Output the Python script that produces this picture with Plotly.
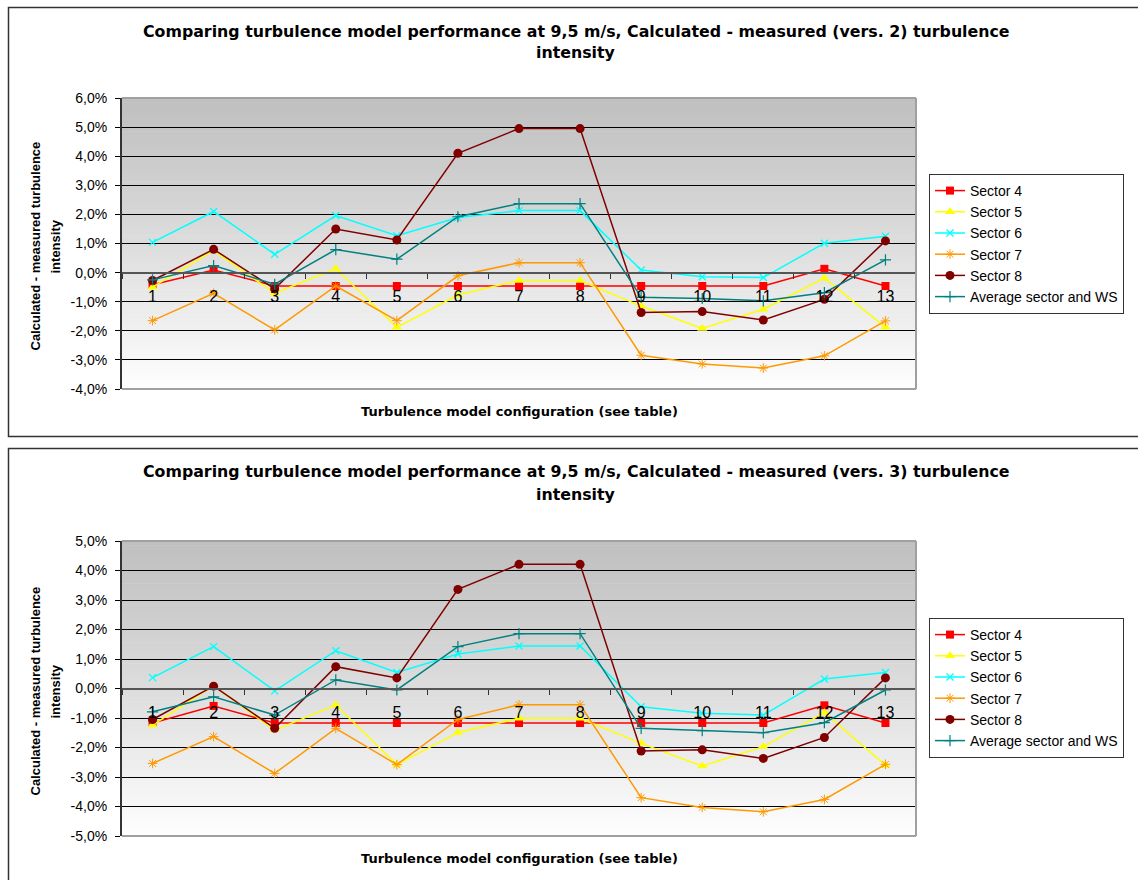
import plotly.graph_objects as go

# Turbulence model configurations on the category axis
configs = [str(i) for i in range(1, 14)]

# Calculated - measured turbulence intensity (vers. 2), in %
v2_sector4 = [-0.42, 0.09, -0.46, -0.46, -0.46, -0.46, -0.46, -0.46, -0.46, -0.46, -0.46, 0.13, -0.46]
v2_sector5 = [-0.50, 0.76, -0.71, 0.13, -1.88, -0.77, -0.27, -0.27, -1.15, -1.92, -1.26, -0.19, -1.88]
v2_sector6 = [1.04, 2.10, 0.63, 1.96, 1.27, 1.89, 2.13, 2.13, 0.09, -0.14, -0.17, 1.01, 1.25]
v2_sector7 = [-1.65, -0.71, -1.97, -0.46, -1.65, -0.11, 0.34, 0.34, -2.84, -3.14, -3.28, -2.86, -1.66]
v2_sector8 = [-0.27, 0.80, -0.56, 1.50, 1.12, 4.10, 4.95, 4.95, -1.37, -1.34, -1.63, -0.92, 1.09]
v2_average = [-0.25, 0.24, -0.40, 0.79, 0.46, 1.92, 2.37, 2.37, -0.85, -0.89, -0.97, -0.69, 0.44]

# Calculated - measured turbulence intensity (vers. 3), in %
v3_sector4 = [-1.17, -0.59, -1.17, -1.17, -1.17, -1.17, -1.17, -1.17, -1.17, -1.17, -1.17, -0.57, -1.17]
v3_sector5 = [-1.24, 0.10, -1.41, -0.56, -2.58, -1.49, -1.01, -1.01, -1.86, -2.63, -1.97, -0.82, -2.60]
v3_sector6 = [0.37, 1.42, -0.08, 1.28, 0.54, 1.17, 1.44, 1.44, -0.62, -0.84, -0.90, 0.32, 0.54]
v3_sector7 = [-2.54, -1.63, -2.88, -1.35, -2.58, -1.05, -0.55, -0.55, -3.70, -4.03, -4.18, -3.76, -2.57]
v3_sector8 = [-1.05, 0.08, -1.35, 0.74, 0.36, 3.36, 4.21, 4.21, -2.12, -2.08, -2.37, -1.66, 0.36]
v3_average = [-0.79, -0.28, -0.90, 0.29, -0.05, 1.42, 1.86, 1.86, -1.35, -1.43, -1.50, -1.16, -0.05]

series_names = ["Sector 4", "Sector 5", "Sector 6", "Sector 7", "Sector 8", "Average sector and WS"]

# Y tick values and labels (percent)
v2_tickvals = [-4, -3, -2, -1, 0, 1, 2, 3, 4, 5, 6]
v2_ticktext = ["-4,0%", "-3,0%", "-2,0%", "-1,0%", "0,0%", "1,0%", "2,0%", "3,0%", "4,0%", "5,0%", "6,0%"]
v3_tickvals = [-5, -4, -3, -2, -1, 0, 1, 2, 3, 4, 5]
v3_ticktext = ["-5,0%", "-4,0%", "-3,0%", "-2,0%", "-1,0%", "0,0%", "1,0%", "2,0%", "3,0%", "4,0%", "5,0%"]

titles = [
    ("Comparing turbulence model performance at 9,5 m/s, Calculated - measured (vers. 2) turbulence", "intensity"),
    ("Comparing turbulence model performance at 9,5 m/s, Calculated - measured (vers. 3) turbulence", "intensity"),
]
x_title = "Turbulence model configuration (see table)"
y_title = ("Calculated - measured turbulence", "intensity")

W, H = 1138, 880

styles = [
    dict(color="#ff0000", symbol="square", size=8, lw=0),
    dict(color="#ffff00", symbol="triangle-up", size=9, lw=0),
    dict(color="#00ffff", symbol="x-thin", size=7, lw=1.3),
    dict(color="#ff9900", symbol="asterisk", size=8, lw=1),
    dict(color="#800000", symbol="circle", size=9, lw=0),
    dict(color="#008080", symbol="cross-thin", size=8, lw=1.2),
]

# Panel geometry in pixels
panels = [
    dict(left=122, right=916, top=98, bottom=389, yr=(-4, 6), tv=v2_tickvals, tt=v2_ticktext,
         data=[v2_sector4, v2_sector5, v2_sector6, v2_sector7, v2_sector8, v2_average],
         title_y=(31, 53), xt_y=411, legend_top=174, box=(7.5, 436.5)),
    dict(left=122, right=916, top=541, bottom=836, yr=(-5, 5), tv=v3_tickvals, tt=v3_ticktext,
         data=[v3_sector4, v3_sector5, v3_sector6, v3_sector7, v3_sector8, v3_average],
         title_y=(471, 494), xt_y=858, legend_top=618, box=(448.5, 890)),
]

fig = go.Figure()
shapes = []
annotations = []
layout_axes = {}

for p_i, p in enumerate(panels):
    sfx = "" if p_i == 0 else str(p_i + 1)
    xname, yname = "x" + sfx, "y" + sfx
    legend_name = "legend" + sfx
    x_dom = [p["left"] / W, p["right"] / W]
    y_dom = [1 - p["bottom"] / H, 1 - p["top"] / H]
    y0, y1 = p["yr"]
    zero_pos = y_dom[0] + (0 - y0) / (y1 - y0) * (y_dom[1] - y_dom[0])

    for name, vals, st in zip(series_names, p["data"], styles):
        fig.add_trace(go.Scatter(
            x=configs, y=vals, name=name, mode="lines+markers",
            xaxis=xname, yaxis=yname, legend=legend_name,
            line=dict(color=st["color"], width=1.5),
            marker=dict(symbol=st["symbol"], size=st["size"], color=st["color"],
                        line=dict(color=st["color"], width=st["lw"])),
        ))

    layout_axes["xaxis" + sfx] = dict(
        domain=x_dom, anchor="free", position=zero_pos, type="category",
        categoryorder="array", categoryarray=configs, range=[-0.5, 12.5],
        showgrid=False, zeroline=False, showline=True, linecolor="#555555", linewidth=2,
        ticks="outside", tickson="boundaries", ticklen=5, tickcolor="#333333", tickwidth=1,
        ticklabelstandoff=9, automargin=False,
        tickfont=dict(family="Liberation Sans", size=16, color="black"),
        fixedrange=True,
    )
    layout_axes["yaxis" + sfx] = dict(
        domain=y_dom, anchor=xname, range=[y0, y1], tickvals=p["tv"], ticktext=p["tt"],
        showgrid=True, gridcolor="#000000", gridwidth=1, zeroline=False,
        showline=True, linecolor="#333333", linewidth=2,
        ticks="outside", ticklen=5, tickcolor="#000000",
        ticklabelstandoff=5, automargin=False,
        tickfont=dict(family="Liberation Sans", size=14, color="black"),
        fixedrange=True,
    )

    # Vertical grey-to-white background gradient of the plot area
    n_bands = 70
    for i in range(n_bands):
        t = i / n_bands  # 0 at top, 1 at bottom
        c = int(round(192 + 63 * (t ** 1.1)))
        shapes.append(dict(
            type="rect", xref=xname + " domain", yref=yname + " domain",
            x0=0, x1=1, y0=1 - (i + 1) / n_bands - 0.002, y1=1 - i / n_bands,
            fillcolor=f"rgb({c},{c},{c})", line=dict(width=0), layer="below",
        ))
    # Grey frame on top, right and bottom of the plot area
    for (xa, ya, xb, yb) in [(0, 1, 1, 1), (1, 1, 1, 0), (0, 0, 1, 0)]:
        shapes.append(dict(
            type="line", xref=xname + " domain", yref=yname + " domain",
            x0=xa, y0=ya, x1=xb, y1=yb, line=dict(color="#a0a0a0", width=2), layer="above",
        ))
    # Chart border box
    bt, bb = p["box"]
    shapes.append(dict(
        type="rect", xref="paper", yref="paper",
        x0=8.5 / W, x1=1.02, y0=1 - bb / H, y1=1 - bt / H,
        line=dict(color="#333333", width=1.5), fillcolor="rgba(0,0,0,0)", layer="below",
    ))

    # Titles
    for line_text, ty in zip(titles[p_i], p["title_y"]):
        annotations.append(dict(
            text=f"<b>{line_text}</b>", xref="paper", yref="paper",
            x=576 / W, y=1 - ty / H, xanchor="center", yanchor="middle", showarrow=False,
            font=dict(family="DejaVu Sans", size=15.8, color="black"),
        ))
    annotations.append(dict(
        text=f"<b>{x_title}</b>", xref="paper", yref="paper",
        x=(p["left"] + p["right"]) / 2 / W, y=1 - p["xt_y"] / H,
        xanchor="center", yanchor="middle", showarrow=False,
        font=dict(family="DejaVu Sans", size=13, color="black"),
    ))
    yc = (p["top"] + p["bottom"]) / 2 + 3
    for line_text, tx in zip(y_title, (35, 55)):
        annotations.append(dict(
            text=f"<b>{line_text}</b>", xref="paper", yref="paper",
            x=tx / W, y=1 - yc / H, xanchor="center", yanchor="middle", showarrow=False,
            textangle=-90, font=dict(family="Liberation Sans", size=13, color="black"),
        ))

    layout_axes[legend_name] = dict(
        x=929 / W, y=1 - p["legend_top"] / H, xanchor="left", yanchor="top",
        bgcolor="white", bordercolor="#333333", borderwidth=1,
        font=dict(family="Liberation Sans", size=14, color="black"),
        tracegroupgap=0, itemwidth=30,
    )

fig.update_layout(
    width=W, height=H, margin=dict(l=0, r=0, t=0, b=0, pad=0, autoexpand=False),
    paper_bgcolor="white", plot_bgcolor="rgba(0,0,0,0)",
    showlegend=True, shapes=shapes, annotations=annotations,
    font=dict(family="Liberation Sans", color="black"),
    **layout_axes,
)

fig.write_html("out.html")
